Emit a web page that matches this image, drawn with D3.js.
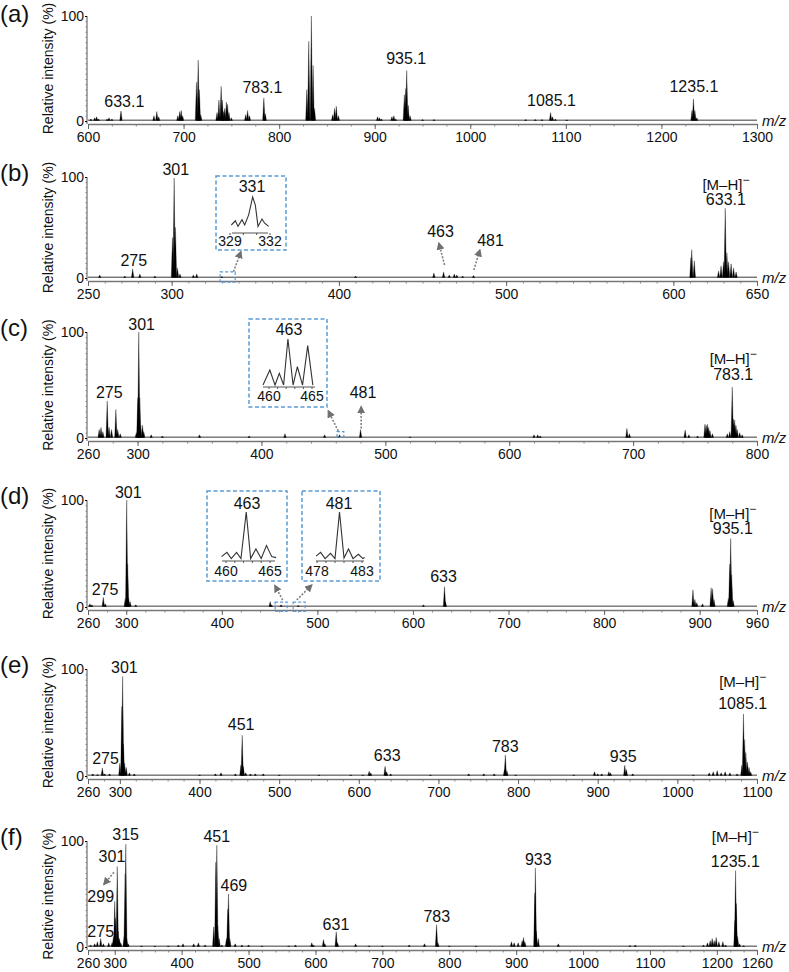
<!DOCTYPE html>
<html><head><meta charset="utf-8">
<script src="https://cdn.jsdelivr.net/npm/d3@7"></script>
<style>
body{margin:0;background:#fff}
svg text{font-family:Arial,"Liberation Sans",sans-serif;fill:#111}
</style>
</head><body>
<svg id="chart" width="789" height="972"></svg>
<script>
// ---------------- DATA ----------------
const panelLetters = ["(a)","(b)","(c)","(d)","(e)","(f)"];
const yTitle = "Relative intensity (%)";
const xTitle = "m/z";

const aDomain = [600,1300];
const aTicks = [600,700,800,900,1000,1100,1200,1300];
const aPeaks = [[603,2],[607,3],[609,4],[611,2],[620,2],[622,3],[625,2],[634.5,9.5],[669,5],[672,9],[674,4],[694,5],[696,9],[697.5,10],[699,5],[713.5,37],[715.3,58],[716.5,30],[718,6],
 [735,8],[737,20],[739.3,33],[740.5,20],[741.5,9],[743,12],[744.8,18],[746,16],[747.5,8],[750,3],[765,6],[767,10],[769,5],[784,22],[785.5,7],
 [829,30],[831,76],[833.7,100],[835.5,53],[837,12],[856,6],[858,12],[859.8,14],[862,5],[903,4],[905,3],[907,2],[918,4],[920,5],[922,2],
 [931,25],[932.5,31],[933.5,48],[935,15],[937,5],[950,1.5],[962,1.5],[1058,1.5],[1068,1.5],[1075,1.5],[1084,8],[1086,4],[1089,2],[1101,1],[1232,10],[1233.5,21],[1235,10],[1237,3]];
const aLabels = [[638,"633.1",13.6],[782.5,"783.1",26.3],[933,"935.1",54],[1085,"1085.1",14.3],[1234,"1235.1",27.3]];

const bDomain = [250,650];
const bTicks = [250,300,400,500,600,650];
const bPeaks = [[257,3],[272,2],[276.7,9],[281,4],[290,2],[300.5,40],[301.5,99],[302.3,50],[303.5,10],[305,4],[313,3],[315,4],[330,1.5],[410,2],
 [456.8,5],[462.6,6],[466,3],[469,4],[470.5,3],[474,2],[480.5,2.5],[610.5,20],[611,28],[612.5,17],[627,7],[628.5,12],[630,16],[631,69],[632,25],[633,16],[634.5,14],[636,10],[637.5,6]];
const bLabels = [[277.4,"275",12.2],[302.5,"301",102],[460.8,"463",40.3],[490.7,"481",31.7],[631.4,"[M–H]",87,true],[631.4,"633.1",72]];
const bArrows = [[463.2,12.9,459.8,34.4],[480.7,7.9,484.3,27.7],[337,6.2,341.4,26]];
const bBoxes = [[329,-4,338,6]];
const bInset1 = [[329.1,20],[329.4,32],[329.6,16],[329.9,35],[330.1,20],[330.4,49],[330.7,100],[330.9,77],[331.1,16],[331.4,37],[331.6,25],[331.9,16]];

const cDomain = [260,800];
const cTicks = [260,300,400,500,600,700,800];
const cPeaks = [[269,8],[270.5,10],[272,6],[275.5,35],[277,10],[279,8],[282.5,27],[284,8],[286,4],[299,5],[300.2,38],[301,100],[301.8,38],[302.5,12],[304,12],[305,6],[311,3],[320,2],[350,3],[390,2],[419,4],[451,3],[463,3],[480,8],[520,1],
 [620,3],[623,3],[625,2],[695,9],[697,4],[742,7.5],[745,3],[752,2],[758,13],[759,12],[760,13],[761,10],[762,7],[764,4],[776,4],[778,6],[780,48],[781,18],[782,17],[783,12],[784,8],[786,5],[788,3]];
const cLabels = [[277.2,"275",38],[303.3,"301",102],[482,"481",37.5],[780.8,"[M–H]",70,true],[780.8,"783.1",54.7]];
const cArrows = [[480.5,9,480.5,29.4],[462,6.6,454,25.5]];
const cBoxes = [[461,0.5,466.5,6]];
const cInset1 = [[459.3,2],[460.1,34],[460.7,2],[461.2,27],[461.7,2],[462.2,100],[462.8,2],[463.3,41],[463.9,2],[464.5,86],[465.1,2]];

const dDomain = [260,960];
const dTicks = [260,300,400,500,600,700,800,900,960];
const dPeaks = [[262,3],[264,2],[276,9],[278,3],[299,8],[300.5,100],[301.5,40],[302.5,8],[304,5],[310,2],[450.6,5],[452,2],[462,2],[480,1.5],[611,2],[633,19],[634,5],
 [893,16],[895,7],[897,4],[903,3],[912,18],[913.5,17],[915,7],[930,8],[931.5,40],[932.5,64],[933.5,30],[935,6]];
const dLabels = [[277.8,"275",11.2],[302.2,"301",102],[632,"633",23.7],[934.7,"[M–H]",82.5,true],[934.7,"935.1",68]];
const dArrows = [[463.7,6.5,455.6,20],[478.4,6.5,494,20.5]];
const dBoxes = [[455.8,-4,468.4,4.5],[474.7,-4,487.2,4.5]];
const dInset1 = [[459.5,7],[460.1,16],[460.6,3],[461.2,16],[461.7,3],[462.3,100],[462.8,3],[463.4,23],[464.0,3],[464.6,30],[465.2,7],[465.7,5]];
const dInset2 = [[477.9,8],[478.4,16],[478.9,3],[479.5,14],[480.0,3],[480.5,100],[481.0,4],[481.5,23],[482.0,3],[482.6,12],[483.1,3],[483.3,5]];

const eDomain = [260,1100];
const eTicks = [260,300,400,500,600,700,800,900,1000,1100];
const ePeaks = [[266,2],[272,1.5],[278,7.5],[281,2],[287,2],[300,12],[302.5,65],[303.5,93],[304.5,30],[306,12],[308,8],[312,3],[318,2],[400,1],[420,2],[427,3],[445,2],[452,10],[453.6,38],[455,9],[458,3],[464,2],[470,2],[480,2],[500,1],[550,1],[590,1],[605,1],
 [613,4.5],[615,3],[633,9],[635,4],[640,2],[690,1],[738,2],[757,2],[770,2],[783,6],[784,19.6],[786,5],[797,1],[870,1],[896,4],[900,2],[905,2],[914,4],[916,3],[934,10],[936,6],[944,2],[1020,1],
 [1040,3],[1045,4],[1050,5],[1055,3],[1060,4],[1066,3],[1075,2],[1081,10],[1083,58],[1084.5,34],[1086,22],[1088,13],[1090,8],[1092,4]];
const eLabels = [[282,"275",11.2],[305.7,"301",96.5],[452.3,"451",43],[635.7,"633",14],[784,"783",22.7],[932,"935",13.4],[1082,"[M–H]",83.5,true],[1082,"1085.1",62.6]];

const fDomain = [260,1260];
const fTicks = [260,300,400,500,600,700,800,900,1000,1100,1200,1260];
const fPeaks = [[264,2],[270,3],[274,5],[279,8],[283,3],[291,4],[296,4],[298,10],[300,43],[301,27],[303.7,76],[305,15],[307,8],[309,4],[314,10],[315.5,69],[316.5,97],[318,8],[320,3],
 [340,1],[360,1],[380,1],[395,2],[402,3],[418,3],[425,4],[435,2],[448,19],[451,80],[452.6,96],[454,20],[456,8],[460,2],[467,8],[469,36],[470,50],[472,8],[480,3],[490,2],[500,2],[520,1],[560,1],[570,2],
 [594.5,4],[597,2],[612,7],[614,3],[631,14.5],[633,4],[660,3],[680,1],[700,1],[740,2],[763,3],[781,21],[783,4],[800,1],[840,1],[893,5],[897,4],[903,4],[909,6],[911,9],[913,5],
 [928,51],[928.7,74.5],[930,15],[933,8],[963,3],[1070,1.5],[1078,2],[1150,1],[1180,2],[1186,4],[1190,6],[1193,8],[1196,6],[1199,9],[1203,5],[1209,5],[1213,2],[1227,25],[1228,72],[1229,41],[1231,10],[1234,3],[1240,1.5]];
const fLabels = [[279,"275",9.7],[279,"299",42.7],[295.8,"301",80.5],[316.3,"315",101],[452.5,"451",99],[478,"469",53],[630.6,"631",16],[781.4,"783",24],[933,"933",77],[1227.6,"[M–H]",99.5,true],[1227.6,"1235.1",75.7]];
const fArrows = [[298.8,70.5,283.9,59.2]];

// ---------------- LAYOUT ----------------
const X0 = 88, X1 = 757;
const layout = [
 {y100:16, y0:121, domain:aDomain, ticks:aTicks, minor:25, peaks:aPeaks, labels:aLabels, arrows:[], boxes:[], insets:[]},
 {y100:177, y0:278, domain:bDomain, ticks:bTicks, minor:10, peaks:bPeaks, labels:bLabels, arrows:bArrows, boxes:bBoxes,
  insets:[{box:[216,176,286,250], dom:[329,332], px:[230,270], line:[232,268], base:232, top:197, data:bInset1, ticks:[329,332], minor:[330,331], peak:["331",252,192], tickY:246}]},
 {y100:332, y0:438, domain:cDomain, ticks:cTicks, minor:20, peaks:cPeaks, labels:cLabels, arrows:cArrows, boxes:cBoxes,
  insets:[{box:[249,319,327,407], dom:[460,465], px:[269,312], line:[263,315], base:386, top:339, data:cInset1, ticks:[460,465], minor:[461,462,463,464], peak:["463",289,335], tickY:401}]},
 {y100:500, y0:607, domain:dDomain, ticks:dTicks, minor:20, peaks:dPeaks, labels:dLabels, arrows:dArrows, boxes:dBoxes,
  insets:[{box:[207,491,287,581], dom:[460,465], px:[226,270], line:[222,275], base:560, top:512, data:dInset1, ticks:[460,465], minor:[461,462,463,464], peak:["463",247,509], tickY:576},
          {box:[302,491,380,581], dom:[478,483], px:[317,362], line:[316,364], base:560, top:512, data:dInset2, ticks:[478,483], minor:[479,480,481,482], peak:["481",339,509], tickY:576}]},
 {y100:669, y0:776, domain:eDomain, ticks:eTicks, minor:20, peaks:ePeaks, labels:eLabels, arrows:[], boxes:[], insets:[]},
 {y100:841, y0:947, domain:fDomain, ticks:fTicks, minor:20, peaks:fPeaks, labels:fLabels, arrows:fArrows, boxes:[], insets:[]}
];

const svg = d3.select("#chart");
const defs = svg.append("defs");
defs.append("marker").attr("id","arr").attr("viewBox","0 0 10 10").attr("refX",8).attr("refY",5)
  .attr("markerWidth",5).attr("markerHeight",5).attr("orient","auto")
  .append("path").attr("d","M0,0 L10,5 L0,10 Z").attr("fill","#707070");

const BLUE = "#5B9BD5";
const FONT = 'Arial,"Liberation Sans",sans-serif';

layout.forEach((p,i)=>{
  const g = svg.append("g");
  const x = d3.scaleLinear().domain(p.domain).range([X0,X1]);
  const y = d3.scaleLinear().domain([0,100]).range([p.y0,p.y100]);

  // panel letter
  g.append("text").attr("x",0).attr("y",Math.max(p.y100+4,22)).attr("font-size",24).text(panelLetters[i]);
  // y title
  g.append("text").attr("transform",`translate(53,${(p.y0+p.y100)/2}) rotate(-90)`)
    .attr("text-anchor","middle").attr("font-size",14).text(yTitle);

  // x axis
  const minorVals = d3.range(Math.ceil(p.domain[0]/p.minor)*p.minor, p.domain[1]+0.01, p.minor);
  const gxm = g.append("g").attr("transform",`translate(0,${p.y0+3})`)
    .call(d3.axisBottom(x).tickValues(minorVals).tickSize(2.5).tickFormat(""));
  gxm.selectAll("line").attr("stroke","#888");
  gxm.select(".domain").remove();
  const gx = g.append("g").attr("transform",`translate(0,${p.y0+3})`)
    .call(d3.axisBottom(x).tickValues(p.ticks).tickFormat(d3.format("d")).tickSize(5).tickPadding(3).tickSizeOuter(0));
  gx.select(".domain").attr("stroke","#777").attr("stroke-width",1.4);
  gx.selectAll(".tick line").attr("stroke","#666");
  gx.selectAll("text").attr("font-size",14).attr("font-family",FONT).attr("fill","#111");
  g.append("text").attr("x",X1+5).attr("y",p.y0+5).attr("font-size",15).attr("font-style","italic").text(xTitle);

  // y axis
  const gym = g.append("g").attr("transform",`translate(${X0-1},0)`)
    .call(d3.axisLeft(y).tickValues(d3.range(0,101,5)).tickSize(1.5).tickFormat(""));
  gym.select(".domain").remove();
  gym.selectAll("line").attr("stroke","#999");
  const gy = g.append("g").attr("transform",`translate(${X0-1},0)`)
    .call(d3.axisLeft(y).tickValues([0,100]).tickSize(2).tickPadding(1).tickSizeOuter(0));
  gy.select(".domain").attr("d",`M0,${p.y0+3}V${p.y100}`).attr("stroke","#555");
  gy.selectAll("text").attr("font-size",14).attr("font-family",FONT).attr("fill","#111");

  // baseline
  g.append("line").attr("x1",X0).attr("x2",X1).attr("y1",y(0.8)).attr("y2",y(0.8)).attr("stroke","#222").attr("stroke-width",0.9);

  // peaks as narrow spikes
  const hw = 1.2;
  g.append("g").selectAll("path").data(p.peaks).join("path")
    .attr("d",d=>`M${x(d[0])-hw},${y(0.5)}L${x(d[0])},${y(d[1])}L${x(d[0])+hw},${y(0.5)}Z`)
    .attr("fill","#000").attr("stroke","#000").attr("stroke-width",0.3);

  // labels
  p.labels.forEach(l=>{
    const t = g.append("text").attr("x",x(l[0])).attr("y",y(l[2])).attr("text-anchor","middle").attr("font-size",l[3]?15:16);
    if(l[3]){ t.text(l[1]); t.append("tspan").attr("font-size",12).attr("dy",-6).text("−"); }
    else t.text(l[1]);
  });

  // source boxes
  p.boxes.forEach(b=>{
    g.append("rect").attr("x",x(b[0])).attr("y",y(b[3])).attr("width",x(b[2])-x(b[0])).attr("height",y(b[1])-y(b[3]))
      .attr("fill","none").attr("stroke",BLUE).attr("stroke-width",1.2).attr("stroke-dasharray","3,2");
  });
  // arrows
  p.arrows.forEach(a=>{
    g.append("line").attr("x1",x(a[0])).attr("y1",y(a[1])).attr("x2",x(a[2])).attr("y2",y(a[3]))
      .attr("stroke","#808080").attr("stroke-width",1.6).attr("stroke-dasharray","2,1.5").attr("marker-end","url(#arr)");
  });

  // insets
  p.insets.forEach(ins=>{
    const [bx1,by1,bx2,by2] = ins.box;
    g.append("rect").attr("x",bx1).attr("y",by1).attr("width",bx2-bx1).attr("height",by2-by1)
      .attr("fill","#fff").attr("stroke",BLUE).attr("stroke-width",1.5).attr("stroke-dasharray","4,2.5");
    const mx = d3.scaleLinear().domain(ins.dom).range(ins.px);
    const my = d3.scaleLinear().domain([0,100]).range([ins.base,ins.top]);
    g.append("line").attr("x1",ins.line[0]).attr("x2",ins.line[1]).attr("y1",ins.base+1).attr("y2",ins.base+1).attr("stroke","#555").attr("stroke-width",1);
    g.selectAll(null).data(ins.minor.concat(ins.ticks)).join("line").attr("x1",d=>mx(d)).attr("x2",d=>mx(d))
      .attr("y1",ins.base+1).attr("y2",ins.base+3).attr("stroke","#555");
    g.append("path").datum(ins.data).attr("d",d3.line().x(d=>mx(d[0])).y(d=>my(d[1])))
      .attr("fill","none").attr("stroke","#333").attr("stroke-width",1.1);
    g.append("text").attr("x",ins.peak[1]).attr("y",ins.peak[2]).attr("text-anchor","middle").attr("font-size",16).text(ins.peak[0]);
    ins.ticks.forEach(t=>{
      g.append("text").attr("x",mx(t)).attr("y",ins.tickY).attr("text-anchor","middle").attr("font-size",14).text(t);
    });
  });
});
</script>
</body></html>
